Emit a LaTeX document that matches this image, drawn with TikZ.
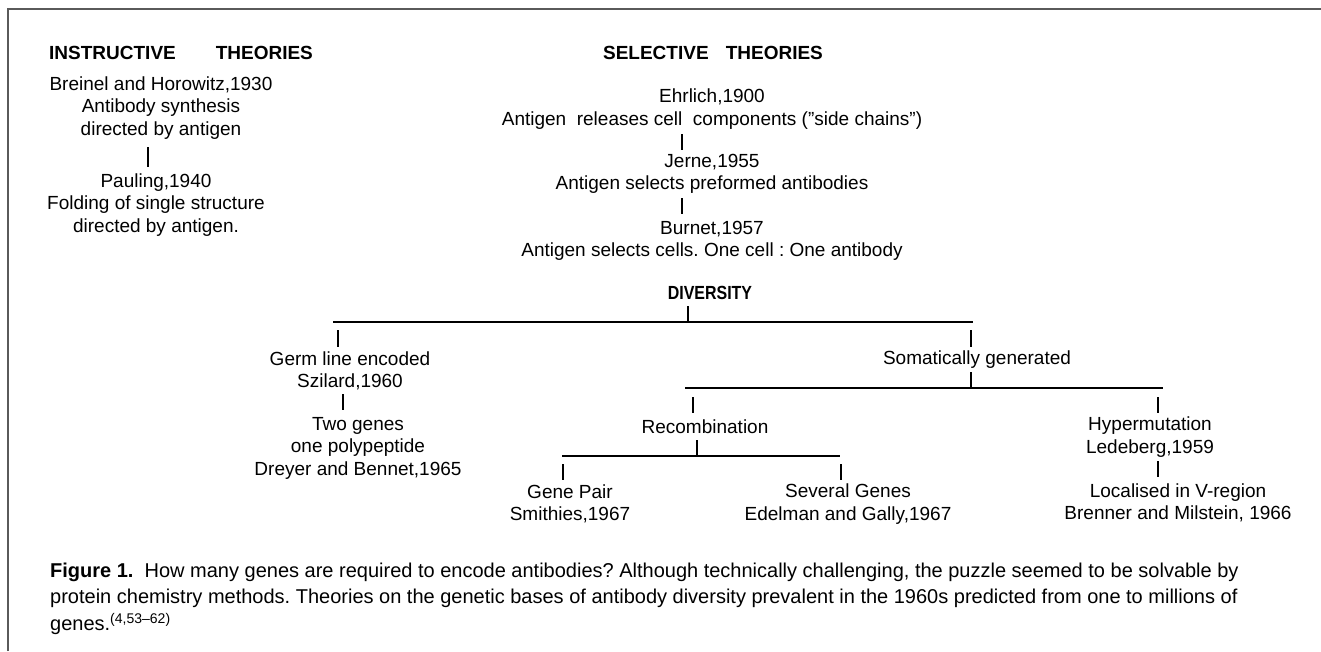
\documentclass[tikz,border=0pt]{standalone}
\usepackage{fontspec}
\setmainfont{Liberation Sans}
\newfontfamily\condfont[FakeStretch=0.84]{Liberation Sans}
\usetikzlibrary{positioning}
\definecolor{FrameGray}{HTML}{5A5A5A}
\frenchspacing

\begin{document}
\begin{tikzpicture}[x=1pt,y=-1pt,
      txt/.style={align=center,inner sep=0pt,font=\fontsize{19}{22.5}\selectfont},
      head/.style={inner sep=0pt,font=\fontsize{19}{23}\selectfont\bfseries},
      captxt/.style={anchor=west,inner sep=0pt,font=\fontsize{20}{26}\selectfont},
      bar/.style={line width=1.8pt},
      tick/.style={line width=1.2pt}
    ]
    \useasboundingbox (0,0) rectangle (1321,651);
    \draw[FrameGray,line width=2pt] (8,651) -- (8,9) -- (1321,9);

    % headers
    \node[head,anchor=west] (instr) at (49,53) {INSTRUCTIVE\hspace{2.1em}THEORIES};
    \node[head] (selec) at (713,53) {SELECTIVE\hspace{0.9em}THEORIES};

    % instructive branch
    \node[txt] (breinel) at (161,108) {Breinel and Horowitz,1930\\Antibody synthesis\\directed by antigen};
    \node[txt] (pauling) at (156,205) {Pauling,1940\\Folding of single structure\\directed by antigen.};

    % selective branch
    \node[txt] (ehrlich) at (712,109) {Ehrlich,1900\\Antigen~~releases cell~~components (\char34 side chains\char34)};
    \node[txt] (jerne) at (712,174) {Jerne,1955\\Antigen selects preformed antibodies};
    \node[txt] (burnet) at (712,241) {Burnet,1957\\Antigen selects cells. One cell : One antibody};

    % diversity tree
    \node[inner sep=0pt,font=\fontsize{19}{23}\selectfont\condfont\bfseries] (div) at (710,293) {DIVERSITY};
    \node[txt] (germ) at (350,371) {Germ line encoded\\Szilard,1960};
    \node[txt] (twogenes) at (358,448) {Two genes\\one polypeptide\\Dreyer and Bennet,1965};
    \node[txt] (somatic) at (977,360) {Somatically generated};
    \node[txt] (recomb) at (705,427) {Recombination};
    \node[txt] (hyper) at (1150,437) {Hypermutation\\Ledeberg,1959};
    \node[txt] (genepair) at (570,504) {Gene Pair\\Smithies,1967};
    \node[txt] (several) at (848,504) {Several Genes\\Edelman and Gally,1967};
    \node[txt] (localised) at (1178,503) {Localised in V-region\\Brenner and Milstein, 1966};

    \coordinate (b1w) at (333,322); \coordinate (b1e) at (973,322);
    \coordinate (b2w) at (685,388); \coordinate (b2e) at (1163,388);
    \coordinate (b3w) at (562,456); \coordinate (b3e) at (840,456);
    \foreach \b in {b1,b2,b3} \draw[bar] (\b w) -- (\b e);

    \foreach \t/\x/\ya/\yb in {t1/148/147/167, t2/682/134/150, t3/682/198/214,
        t4/688/306/322, t5/338/330/347, t6/343/394/410, t7/971/330/347,
        t8/971/372/388, t9/693/397/413, t10/697/440/456, t11/563/464/480,
        t12/841/464/480, t13/1158/397/413, t14/1158/461/477}{
      \coordinate (\t-a) at (\x,\ya);
      \coordinate (\t-b) at (\x,\yb);
      \draw[tick] (\t-a) -- (\t-b);
    }

    % caption
    \node[captxt] (capa) at (50,572) {\textbf{Figure 1.}\ \ How many genes are required to encode antibodies? Although technically challenging, the puzzle seemed to be solvable by};
    \node[captxt] (capb) at (50,598) {protein chemistry methods. Theories on the genetic bases of antibody diversity prevalent in the 1960s predicted from one to millions of};
    \node[captxt] (capc) at (50,624) {genes.\textsuperscript{(4,53–62)}};
  \end{tikzpicture}
\end{document}
